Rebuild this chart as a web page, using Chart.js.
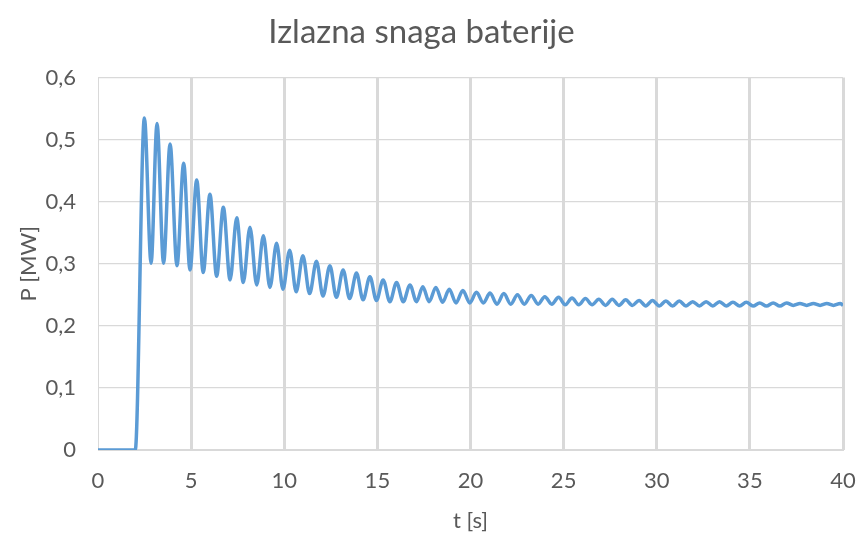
<!DOCTYPE html>
<html>
<head>
<meta charset="utf-8">
<script src="https://cdn.jsdelivr.net/npm/chart.js@4"></script>
<style>
  html, body { margin: 0; padding: 0; background: #fff; }
  #wrap { width: 859px; height: 534px; }
</style>
</head>
<body>
<div id="wrap"><canvas id="myChart" width="859" height="534"></canvas></div>
<script>
// vrijeme [s]
var tData = [
    0, 2.0, 2.49, 2.85, 3.17, 3.52, 3.87, 4.24, 4.60, 4.94,
    5.30, 5.65, 6.01, 6.37, 6.73, 7.09, 7.45, 7.80, 8.16, 8.52,
    8.88, 9.23, 9.59, 9.93, 10.29, 10.64, 11.00, 11.36, 11.73, 12.08,
    12.45, 12.80, 13.16, 13.51, 13.88, 14.23, 14.60, 14.95, 15.31, 15.67,
    16.03, 16.39, 16.75, 17.10, 17.44, 17.78, 18.14, 18.50, 18.86, 19.22,
    19.59, 19.96, 20.32, 20.69, 21.05, 21.42, 21.79, 22.16, 22.52, 22.89,
    23.26, 23.63, 23.99, 24.36, 24.73, 25.09, 25.45, 25.81, 26.17, 26.53,
    26.89, 27.25, 27.61, 27.97, 28.33, 28.69, 29.05, 29.41, 29.77, 30.13,
    30.49, 30.85, 31.21, 31.57, 31.93, 32.29, 32.65, 33.01, 33.37, 33.73,
    34.09, 34.45, 34.81, 35.17, 35.53, 35.89, 36.25, 36.61, 36.97, 37.33,
    37.69, 38.05, 38.41, 38.77, 39.13, 39.49, 39.85, 40
];
// snaga [MW]
var pData = [
    0, 0, 0.535, 0.301, 0.526, 0.301, 0.493, 0.297, 0.462, 0.290,
    0.435, 0.286, 0.412, 0.280, 0.391, 0.274, 0.374, 0.270, 0.359, 0.266,
    0.345, 0.262, 0.333, 0.259, 0.322, 0.255, 0.313, 0.252, 0.304, 0.248,
    0.297, 0.246, 0.290, 0.244, 0.285, 0.242, 0.279, 0.241, 0.274, 0.239,
    0.270, 0.239, 0.266, 0.239, 0.263, 0.239, 0.262, 0.238, 0.259, 0.237,
    0.257, 0.237, 0.254, 0.237, 0.253, 0.235, 0.252, 0.235, 0.250, 0.235,
    0.249, 0.235, 0.247, 0.235, 0.246, 0.234, 0.245, 0.234, 0.244, 0.234,
    0.243, 0.233, 0.243, 0.233, 0.242, 0.233, 0.241, 0.232, 0.241, 0.232,
    0.240, 0.232, 0.240, 0.232, 0.239, 0.232, 0.239, 0.232, 0.239, 0.232,
    0.238, 0.232, 0.238, 0.232, 0.237, 0.232, 0.237, 0.232, 0.237, 0.233,
    0.236, 0.233, 0.236, 0.233, 0.236, 0.233, 0.236, 0.233, 0.236, 0.234
];
var xTicks = [0, 5, 10, 15, 20, 25, 30, 35, 40];
var yTicks = [0, 0.1, 0.2, 0.3, 0.4, 0.5, 0.6];

var sivo = '#595959';
var mreza = '#d9d9d9';
var font = 'Lato, "Open Sans", sans-serif';

var tocke = [];
for (var i in tData) {
    tocke.push({x: tData[i], y: pData[i]});
}

var ctx = document.getElementById('myChart');
var graf = new Chart(ctx, {
    type: 'line',
    data: {
        datasets: [{
            label: 'P',
            data: tocke,
            borderColor: '#5b9bd5',
            borderWidth: 3.5,
            pointRadius: 0,
            fill: false,
            cubicInterpolationMode: 'monotone'
        }]
    },
    options: {
        responsive: false,
        animation: false,
        layout: { padding: { left: 0, right: 16, top: 0, bottom: 0 } },
        plugins: {
            legend: { display: false },
            tooltip: { enabled: false },
            title: {
                display: true,
                text: 'Izlazna snaga baterije',
                color: sivo,
                font: { family: font, size: 33, weight: 'normal' },
                padding: { top: 13, bottom: 25 }
            }
        },
        scales: {
            x: {
                type: 'linear',
                min: 0,
                max: 40,
                afterBuildTicks: function(axis) {
                    axis.ticks = xTicks.map(function(v) { return {value: v}; });
                },
                afterFit: function(axis) {
                    axis.height = 84;
                    // zadnja oznaka smije izaći izvan ruba
                    axis.paddingRight = 0;
                    axis.paddingLeft = 0;
                },
                grid: {
                    color: mreza,
                    lineWidth: function(c) { return c.index === 0 ? 1 : 3; },
                    drawTicks: false
                },
                border: { display: true, color: mreza, width: 1 },
                ticks: {
                    color: sivo,
                    padding: 18,
                    font: { family: font, size: 22 }
                },
                title: {
                    display: true,
                    text: 't [s]',
                    color: sivo,
                    font: { family: font, size: 22 },
                    padding: { top: 1, bottom: 0 }
                }
            },
            y: {
                min: 0,
                max: 0.6,
                afterBuildTicks: function(axis) {
                    axis.ticks = yTicks.map(function(v) { return {value: v}; });
                },
                afterFit: function(axis) { axis.width = 98; },
                grid: { color: mreza, lineWidth: 1.3, drawTicks: false },
                border: { display: true, color: mreza, width: 1 },
                ticks: {
                    color: sivo,
                    padding: 22,
                    font: { family: font, size: 22 },
                    callback: function(v) {
                        return v === 0 ? '0' : v.toFixed(1).replace('.', ',');
                    }
                },
                title: {
                    display: true,
                    text: 'P [MW]',
                    color: sivo,
                    font: { family: font, size: 22 },
                    padding: { top: 16, bottom: 0 }
                }
            }
        }
    }
});
</script>
</body>
</html>
